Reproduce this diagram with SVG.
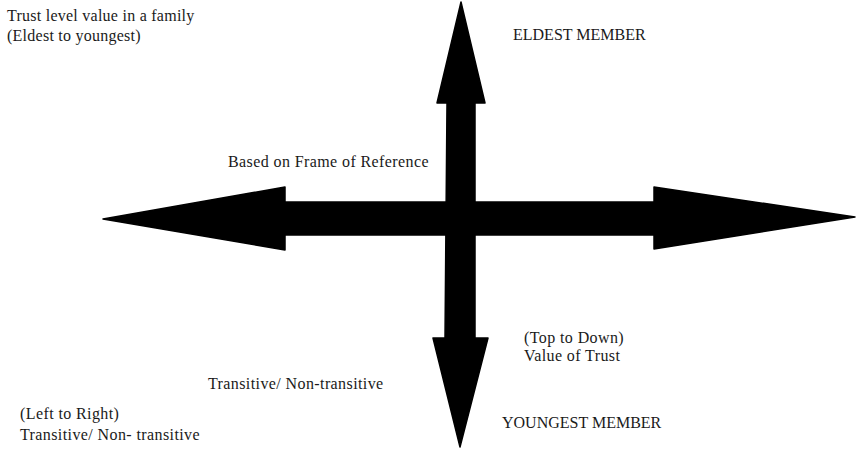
<svg xmlns="http://www.w3.org/2000/svg" width="856" height="449" viewBox="0 0 856 449">
  <style>
    .lbl { font-family: "Liberation Serif", "Times New Roman", serif; font-size: 16px; letter-spacing: 0.4px; fill: #1a1a1a; }
    .caps { letter-spacing: 0; }
    .tight { letter-spacing: 0.25px; }
    .arrow { fill: #000; stroke: #000; stroke-width: 1.5; stroke-linejoin: round; }
  </style>
  <rect width="856" height="449" fill="#fff"/>
  <g id="connectors">
    <!-- vertical double arrow -->
    <path class="arrow" d="M461,2 L485,103 L475,103 L475,338 L488,338 L460,447 L433,338 L445,338 L447,103 L437,103 Z"/>
    <!-- horizontal double arrow -->
    <path class="arrow" d="M103,219 L285,187 L285,202 L654,202 L654,187 L855,217 L654,249 L654,235 L285,235 L285,250 Z"/>
  </g>
  <g id="title">
    <text class="lbl tight" x="7" y="21">Trust level value in a family</text>
    <text class="lbl tight" x="7" y="41">(Eldest to youngest)</text>
  </g>
  <g id="eldest">
    <text class="lbl caps" x="513" y="40">ELDEST MEMBER</text>
  </g>
  <g id="frame">
    <text class="lbl" x="228" y="167">Based on Frame of Reference</text>
  </g>
  <g id="topdown">
    <text class="lbl" x="524" y="343">(Top to Down)</text>
    <text class="lbl" x="524" y="361">Value of Trust</text>
  </g>
  <g id="transitive">
    <text class="lbl" x="208" y="389">Transitive/ Non-transitive</text>
  </g>
  <g id="youngest">
    <text class="lbl caps" x="502" y="428">YOUNGEST MEMBER</text>
  </g>
  <g id="leftright">
    <text class="lbl" x="20" y="419">(Left to Right)</text>
    <text class="lbl" x="20" y="440">Transitive/ Non- transitive</text>
  </g>
</svg>
